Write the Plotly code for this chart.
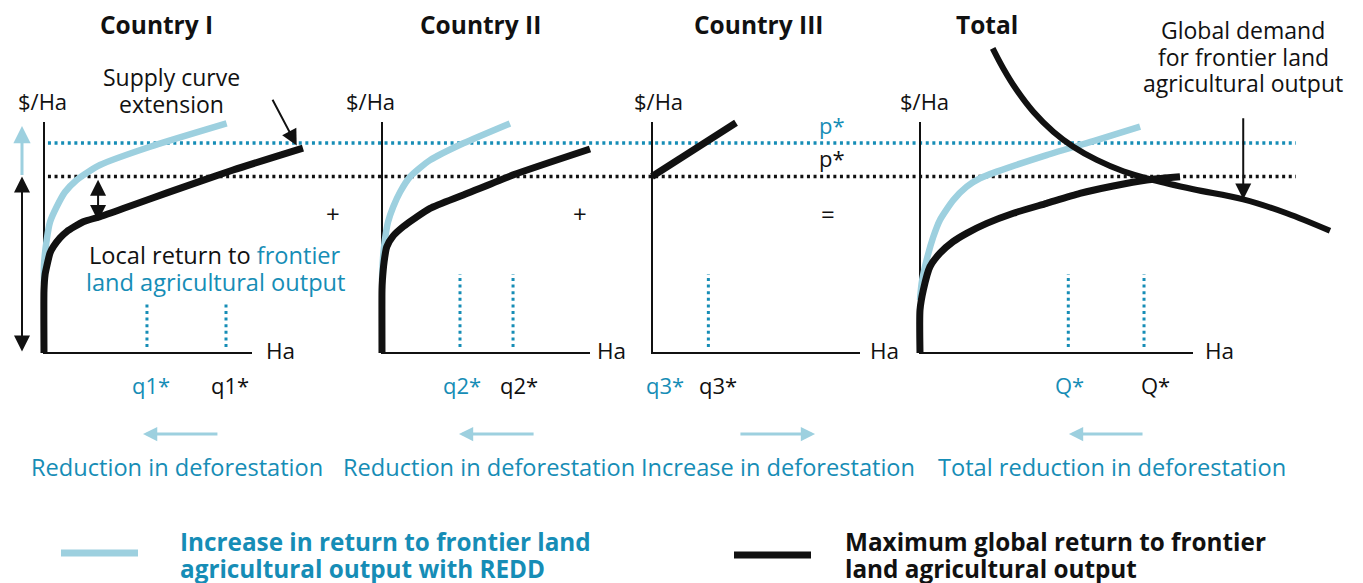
import plotly.graph_objects as go

# ---------------- DATA (diagram units: Ha on x, $/Ha on y) ----------------
panel_titles = ["Country I", "Country II", "Country III", "Total"]

# Country I
c1_redd_x = [0, 0, 1.3, 2.9, 6.1, 10.1, 15.7, 21.2, 26.9, 51, 87.8]
c1_redd_y = [30, 38.1, 48.9, 56.7, 63.3, 69.7, 74.9, 78.4, 81.4, 89.3, 99.4]
c1_max_x = [0, 0, 0.5, 1.3, 2.9, 4.5, 7.7, 10.9, 18.9, 26.9, 42.8, 59.1, 90.9, 124.5]
c1_max_y = [0, 27.3, 33.8, 37.4, 43.3, 46.0, 49.8, 52.5, 56.8, 59.0, 64.1, 69.3, 79.2, 88.7]

# Country II
c2_redd_x = [0, 0.5, 1.4, 2.9, 5.4, 8.7, 13.5, 23.1, 39.1, 61.5]
c2_redd_y = [31.6, 41.1, 48.9, 56.7, 63.3, 69.7, 76.3, 83.5, 90.8, 99.4]
c2_max_x = [0, 0, 0.2, 1, 2.3, 5.3, 10.2, 15.9, 23.1, 39.1, 63.1, 100]
c2_max_y = [0, 27.3, 31.6, 39.4, 46, 50.6, 54.7, 58.4, 62.6, 68.4, 77.1, 88.3]

# Country III
c3_max_x = [0, 40.4]
c3_max_y = [76.4, 99.7]

# Total
tot_redd_x = [0, 0.8, 3.2, 6.4, 9.6, 16, 22.4, 28.8, 36.9, 60.9, 84.9, 105.8]
tot_redd_y = [22.9, 30.2, 40.3, 50.3, 57.6, 66.2, 72, 75.6, 78.5, 85.7, 92.2, 98]
tot_max_x = [0, 0, 1.6, 4.8, 9.6, 15.9, 22.4, 32.1, 44.9, 60.9, 76.9, 92.9, 109, 125]
tot_max_y = [0, 18.6, 27.3, 37.4, 43.2, 48.2, 51.8, 56.1, 60.5, 64.8, 69.1, 72.3, 74.9, 76.3]
demand_x = [34.95, 40.05, 46.49, 54.47, 64.09, 73.7, 84.95, 97.74, 112.16, 131.4, 155.4, 176.3, 197.1]
demand_y = [131.9, 123.2, 113.85, 104.46, 95.8, 89.3, 83.6, 78.7, 74.9, 70.9, 66.5, 60.5, 52.9]

# equilibrium prices
p_redd = 90.9
p_max = 76.4
# equilibrium quantities per panel (None = no line)
q_redd = [49.5, 37.5, 27.1, 71.3]
q_max = [87.5, 63.0, None, 107.7]
q_redd_labels = ["q1*", "q2*", "q3*", "Q*"]
q_max_labels = ["q1*", "q2*", "q3*", "Q*"]

# deforestation change arrows (tail, tip) in Ha units, per panel
defor_tail = [84.1, 73.6, 41.8, 107.7]
defor_tip = [47.6, 37.0, 78.4, 71.6]
defor_labels = ["Reduction in deforestation", "Reduction in deforestation",
                "Increase in deforestation", "Total reduction in deforestation"]
ops = ["+", "+", "="]

# axis extents
axis_len_x = [100, 100, 100, 131.25]
axis_len_y = 100

# ---------------- LAYOUT / STYLE ----------------
W, H = 1363, 583
KX, KY = 2.08, 2.31          # px per unit
ORIG_PX = [44, 382, 652, 920]  # panel origin x (px)
ORIG_PY = 353                  # origin y (px)
FONT = "Open Sans"
BLACK = "#111111"
BLUE = "#168db6"
LBLUE = "#9dd0df"
FS = 23

fig = go.Figure()
xa = ["x", "x2", "x3", "x4"]


def add_line(ax, x, y, color, width, dash=None, spline=False, smooth=0.6):
    fig.add_trace(go.Scatter(
        x=x, y=y, xaxis=ax, yaxis="y", mode="lines", hoverinfo="skip",
        line=dict(color=color, width=width, dash=dash,
                  shape="spline" if spline else "linear", smoothing=smooth)))


DOT = "3px,3.6px"

# axes frames
for i in range(4):
    add_line(xa[i], [0, 0, axis_len_x[i]], [axis_len_y, 0, 0], BLACK, 2)

# price lines (p*) across all panels, in panel-1 coordinates
x_end = (1296 - ORIG_PX[0]) / KX
add_line("x", [1.9, x_end], [p_redd, p_redd], BLUE, 3.5, DOT)
add_line("x", [1.9, x_end], [p_max, p_max], BLACK, 3.5, DOT)

# quantity lines
q_top = [21.6, 34.2, 34.2, 34.2]
for i in range(4):
    for q in (q_redd[i], q_max[i]):
        if q is not None:
            add_line(xa[i], [q, q], [2.6, q_top[i]], BLUE, 3, DOT)

# curves
add_line("x", c1_redd_x, c1_redd_y, LBLUE, 6.5, spline=True)
add_line("x", c1_max_x, c1_max_y, BLACK, 7, spline=True)
add_line("x2", c2_redd_x, c2_redd_y, LBLUE, 6.5, spline=True)
add_line("x2", c2_max_x, c2_max_y, BLACK, 7, spline=True)
add_line("x3", c3_max_x, c3_max_y, BLACK, 7)
add_line("x4", tot_redd_x, tot_redd_y, LBLUE, 6.5, spline=True)
add_line("x4", tot_max_x, tot_max_y, BLACK, 7, spline=True)
add_line("x4", demand_x, demand_y, BLACK, 6, spline=True, smooth=1.0)

annotations = []


def txt(text, xpx, ypx, size=FS, color=BLACK, bold=False, xanchor="center"):
    if bold:
        text = "<b>" + text + "</b>"
    annotations.append(dict(
        text=text, x=xpx / W, y=1 - ypx / H, xref="paper", yref="paper",
        xanchor=xanchor, yanchor="middle", showarrow=False,
        font=dict(family=FONT, size=size, color=color)))


def arrow(ax, x0, y0, x1, y1, color, width, size, both=False):
    a = dict(text="", x=x1, y=y1, ax=x0, ay=y0, xref=ax, yref="y",
             axref=ax, ayref="y", showarrow=True, arrowhead=2,
             arrowsize=size, arrowwidth=width, arrowcolor=color)
    if both:
        a.update(arrowside="end+start", startarrowhead=2, startarrowsize=size)
    annotations.append(a)


# titles
title_px = [156, 480, 758, 987]
for t, xp in zip(panel_titles, title_px):
    txt(t, xp, 24, size=24.5, bold=True)

# axis labels
for xp in [42, 370, 658, 924]:
    txt("$/Ha", xp, 101, size=22)
for xp in [280, 611, 884, 1219]:
    txt("Ha", xp, 351, size=22.5)

# operators
for o, xp in zip(ops, [333, 580, 828]):
    txt(o, xp, 214, size=24)

# p* labels
txt("p*", 832, 125, size=22, color=BLUE)
txt("p*", 832, 158, size=22, color=BLACK)

# q labels
qb_px = [151, 462, 665, 1069]
qk_px = [230, 519, 718, 1155]
for i in range(4):
    txt(q_redd_labels[i], qb_px[i], 385, size=22, color=BLUE)
    txt(q_max_labels[i], qk_px[i], 385, size=22, color=BLACK)

# deforestation arrows and labels
y_def = (ORIG_PY - 434) / KY
for i in range(4):
    arrow(xa[i], defor_tail[i], y_def, defor_tip[i], y_def, LBLUE, 3, 0.95)
for t, xp in zip(defor_labels, [177, 489, 778, 1112]):
    txt(t, xp, 467, size=23.6, color=BLUE)

# annotation texts
txt("Supply curve", 172, 77)
txt("extension", 172, 104)
txt("Local return to <span style='color:%s'>frontier</span>" % BLUE, 215, 255, size=23.6)
txt("land agricultural output", 215, 282, size=23.6, color=BLUE)
txt("Global demand", 1243, 30)
txt("for frontier land", 1243, 57)
txt("agricultural output", 1243, 83)

# explanatory arrows
arrow("x", 109.5, 110.3, 121.5, 89.8, BLACK, 2, 1.6)
arrow("x4", 155.4, 102.3, 155.4, 66.5, BLACK, 2, 1.6)
xl = (22 - ORIG_PX[0]) / KX
arrow("x", xl, p_max, xl, 98.3, LBLUE, 3, 1.15)
arrow("x", xl, 0, xl, p_max, BLACK, 2, 1.6, both=True)
arrow("x", 26.0, 56.5, 26.0, 75.0, BLACK, 2, 1.6, both=True)

# legend
fig.add_shape(type="line", xref="paper", yref="paper", x0=61 / W, x1=138 / W,
              y0=1 - 553 / H, y1=1 - 553 / H, line=dict(color=LBLUE, width=7))
fig.add_shape(type="line", xref="paper", yref="paper", x0=734 / W, x1=811 / W,
              y0=1 - 555 / H, y1=1 - 555 / H, line=dict(color=BLACK, width=7))
txt("Increase in return to frontier land", 178, 541, size=24.3, color=BLUE, bold=True, xanchor="left")
txt("agricultural output with REDD", 178, 568, size=24.3, color=BLUE, bold=True, xanchor="left")
txt("Maximum global return to frontier", 843, 541, size=24.3, color=BLACK, bold=True, xanchor="left")
txt("land agricultural output", 843, 568, size=24.3, color=BLACK, bold=True, xanchor="left")

layout = dict(
    width=W, height=H, margin=dict(l=0, r=0, t=0, b=0),
    paper_bgcolor="white", plot_bgcolor="rgba(0,0,0,0)", showlegend=False,
    annotations=annotations,
    yaxis=dict(domain=[0, 1], range=[(ORIG_PY - H) / KY, ORIG_PY / KY],
               visible=False, fixedrange=True, anchor="x"),
)
for i in range(4):
    key = "xaxis" if i == 0 else "xaxis%d" % (i + 1)
    d = dict(domain=[0, 1], range=[-ORIG_PX[i] / KX, (W - ORIG_PX[i]) / KX],
             visible=False, fixedrange=True, anchor="y")
    if i > 0:
        d["overlaying"] = "x"
    layout[key] = d
fig.update_layout(**layout)

fig.write_html("out.html", config={"displayModeBar": False},
               post_script="document.body.style.margin='0';document.body.style.overflow='hidden';")
